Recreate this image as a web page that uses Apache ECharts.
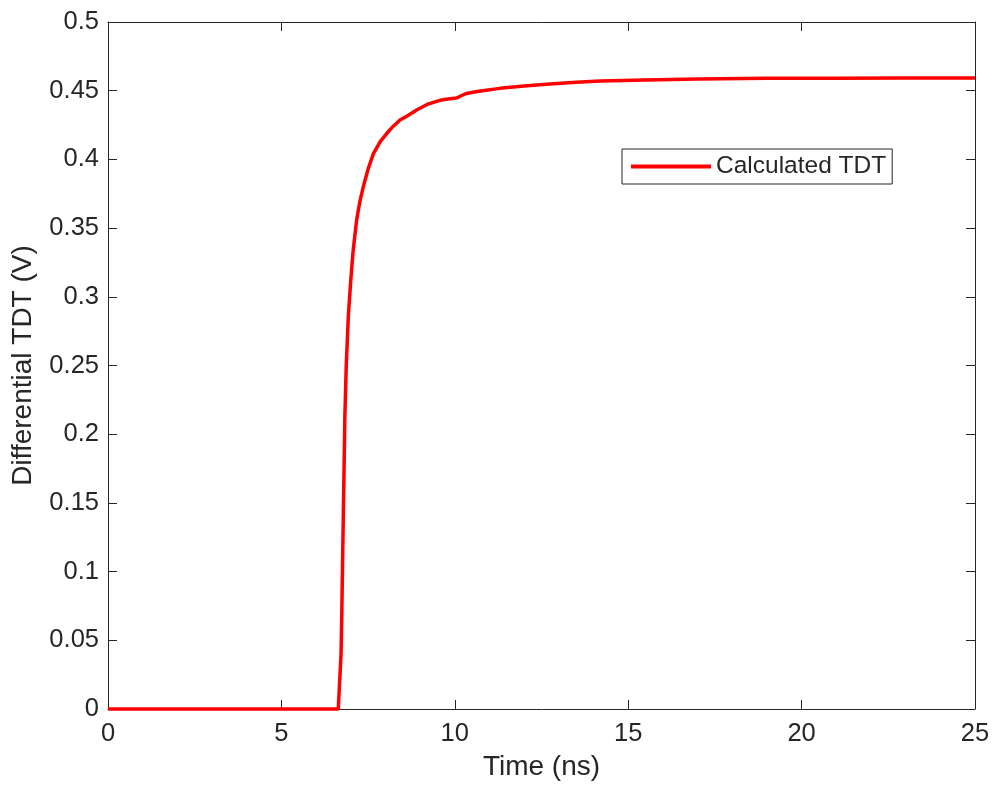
<!DOCTYPE html>
<html>
<head>
<meta charset="utf-8">
<script src="https://cdn.jsdelivr.net/npm/echarts@6/dist/echarts.min.js"></script>
<style>
html,body{margin:0;padding:0;background:#fff;}
#chart{width:994px;height:786px;}
</style>
</head>
<body>
<div id="chart"></div>
<script>
// Time (ns)
const timeNs = [0, 6.64, 6.68, 6.72, 6.74, 6.76, 6.785, 6.81, 6.83, 6.87, 6.93, 7.0, 7.07, 7.17, 7.26, 7.36, 7.5, 7.65, 7.85, 8.04, 8.22, 8.42, 8.65, 8.9, 9.2, 9.57, 9.8, 10.05, 10.2, 10.34, 10.6, 10.8, 11.3, 12.0, 12.74, 13.5, 14.2, 15.5, 17, 19, 21, 23, 25];
// Differential TDT (V)
const tdtV = [0, 0, 0, 0.04, 0.067, 0.1, 0.14, 0.18, 0.213, 0.25, 0.286, 0.312, 0.334, 0.356, 0.369, 0.38, 0.393, 0.404, 0.413, 0.419, 0.424, 0.4287, 0.432, 0.436, 0.44, 0.443, 0.444, 0.4447, 0.4465, 0.448, 0.4493, 0.45, 0.4517, 0.4535, 0.4549, 0.4562, 0.457, 0.4578, 0.4585, 0.459, 0.459, 0.4592, 0.4592];
const xTicks = [0, 5, 10, 15, 20, 25];
const yTicks = [0, 0.05, 0.1, 0.15, 0.2, 0.25, 0.3, 0.35, 0.4, 0.45, 0.5];
const seriesName = 'Calculated TDT';

const FONT = "'Liberation Sans', Arial, sans-serif";
const TXT = '#262626';
const tickFs = 25.5;
const labelFs = 28;
const legendFs = 24.5;

const chart = echarts.init(document.getElementById('chart'));
const data = timeNs.map((t, i) => [t, tdtV[i]]);

function axisCommon() {
  return {
    axisLine: { show: true, onZero: false, lineStyle: { color: TXT, width: 1 } },
    axisTick: { show: true, inside: true, length: 9, lineStyle: { color: TXT, width: 1 } },
    splitLine: { show: false }
  };
}

chart.setOption({
  animation: false,
  backgroundColor: '#fff',
  textStyle: { fontFamily: FONT },
  grid: { left: 108, right: 19, top: 22, bottom: 77, show: false },
  legend: {
    data: [{ name: seriesName, icon: 'rect' }],
    left: 622, top: 149,
    itemWidth: 80, itemHeight: 4,
    padding: [5, 6, 5, 9],
    borderColor: TXT, borderWidth: 1, borderRadius: 0,
    backgroundColor: '#fff',
    textStyle: { fontFamily: FONT, fontSize: legendFs, color: TXT, lineHeight: 24 }
  },
  xAxis: [
    Object.assign(axisCommon(), {
      type: 'value', min: xTicks[0], max: xTicks[xTicks.length - 1], interval: 5,
      position: 'bottom',
      name: 'Time (ns)', nameLocation: 'middle', nameGap: 44,
      nameTextStyle: { fontFamily: FONT, fontSize: labelFs, color: TXT, lineHeight: 28 },
      axisLabel: { margin: 12, fontFamily: FONT, fontSize: tickFs, color: TXT }
    }),
    Object.assign(axisCommon(), {
      type: 'value', min: xTicks[0], max: xTicks[xTicks.length - 1], interval: 5,
      position: 'top', axisLabel: { show: false }
    })
  ],
  yAxis: [
    Object.assign(axisCommon(), {
      type: 'value', min: yTicks[0], max: yTicks[yTicks.length - 1], interval: 0.05,
      position: 'left',
      name: 'Differential TDT (V)', nameLocation: 'middle', nameGap: 71,
      nameTextStyle: { fontFamily: FONT, fontSize: labelFs, color: TXT, lineHeight: 28 },
      axisLabel: { margin: 9, fontFamily: FONT, fontSize: tickFs, color: TXT,
        formatter: v => String(+v.toFixed(2)) }
    }),
    Object.assign(axisCommon(), {
      type: 'value', min: yTicks[0], max: yTicks[yTicks.length - 1], interval: 0.05,
      position: 'right', axisLabel: { show: false }
    })
  ],
  series: [{
    name: seriesName,
    type: 'line',
    data: data,
    showSymbol: false,
    symbol: 'none',
    smooth: false,
    clip: false,
    lineStyle: { color: '#ff0000', width: 3.5 },
    itemStyle: { color: '#ff0000' },
    z: 5
  }]
});
</script>
</body>
</html>
